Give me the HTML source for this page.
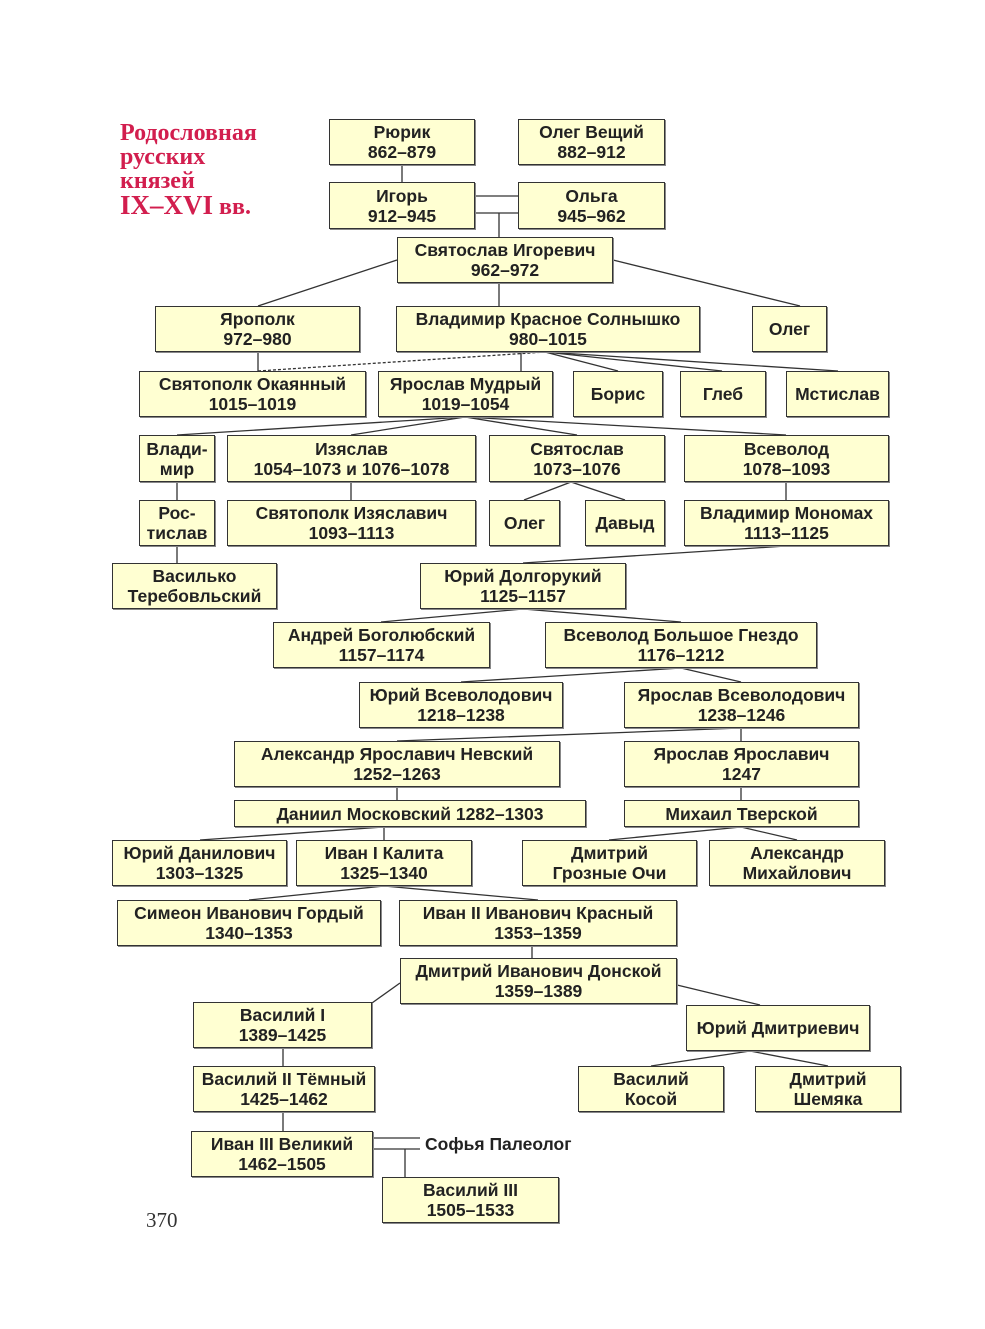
<!DOCTYPE html>
<html><head><meta charset="utf-8"><style>
body{margin:0;background:#fff;width:985px;height:1329px;position:relative;overflow:hidden;font-family:"Liberation Sans","DejaVu Sans",sans-serif;}
.b{position:absolute;box-sizing:border-box;background:#ffffd2;border:1.5px solid #333;box-shadow:1px 1px 0 #888;display:flex;align-items:center;justify-content:center;text-align:center;font-weight:bold;font-size:17.5px;line-height:20px;color:#222;white-space:nowrap;}
svg{position:absolute;left:0;top:0;}
.t{position:absolute;font-family:"Liberation Serif",serif;font-weight:bold;color:#d21e4e;font-size:24px;line-height:24px;}
</style></head><body>
<svg width="985" height="1329" stroke="#333" stroke-width="1.3" fill="none">
<line x1="402" y1="165" x2="402" y2="182"/>
<line x1="475" y1="196" x2="518" y2="196"/><line x1="475" y1="213" x2="518" y2="213"/>
<line x1="499" y1="213" x2="499" y2="237"/>
<line x1="397" y1="260" x2="258" y2="306"/><line x1="613" y1="260" x2="800" y2="306"/>
<line x1="499" y1="283" x2="499" y2="306"/>
<line x1="258" y1="352" x2="258" y2="371"/>
<line x1="258" y1="371" x2="545" y2="352" stroke-dasharray="3,2"/>
<line x1="521" y1="352" x2="521" y2="371"/>
<line x1="545" y1="352" x2="618" y2="371"/><line x1="545" y1="352" x2="722" y2="371"/><line x1="545" y1="352" x2="838" y2="371"/>
<line x1="465" y1="417" x2="177" y2="435"/><line x1="465" y1="417" x2="351" y2="435"/><line x1="465" y1="417" x2="577" y2="435"/><line x1="465" y1="417" x2="786" y2="435"/>
<line x1="177" y1="482" x2="177" y2="500"/><line x1="177" y1="546" x2="177" y2="563"/>
<line x1="351" y1="482" x2="351" y2="500"/>
<line x1="571" y1="482" x2="524" y2="500"/><line x1="571" y1="482" x2="625" y2="500"/>
<line x1="786" y1="482" x2="786" y2="500"/>
<line x1="786" y1="546" x2="523" y2="563"/>
<line x1="523" y1="609" x2="381" y2="622"/><line x1="523" y1="609" x2="681" y2="622"/>
<line x1="681" y1="668" x2="461" y2="682"/><line x1="681" y1="668" x2="741" y2="682"/>
<line x1="741" y1="728" x2="397" y2="741"/><line x1="741" y1="728" x2="741" y2="741"/>
<line x1="397" y1="787" x2="397" y2="800"/><line x1="741" y1="787" x2="741" y2="800"/>
<line x1="384" y1="827" x2="200" y2="840"/><line x1="384" y1="827" x2="384" y2="840"/>
<line x1="741" y1="827" x2="609" y2="840"/><line x1="741" y1="827" x2="797" y2="840"/>
<line x1="384" y1="886" x2="249" y2="900"/><line x1="384" y1="886" x2="538" y2="900"/>
<line x1="532" y1="946" x2="532" y2="958"/>
<line x1="400" y1="983" x2="372" y2="1003"/><line x1="677" y1="985" x2="760" y2="1005"/>
<line x1="283" y1="1048" x2="283" y2="1066"/><line x1="283" y1="1112" x2="283" y2="1131"/>
<line x1="750" y1="1051" x2="651" y2="1066"/><line x1="750" y1="1051" x2="828" y2="1066"/>
<line x1="373" y1="1138" x2="420" y2="1138"/><line x1="373" y1="1149" x2="420" y2="1149"/>
<line x1="405" y1="1149" x2="405" y2="1177"/>
</svg>
<div class="t" style="left:120px;top:121px;">Родословная<br>русских<br>князей<br><span style="font-size:27px">IX–XVI</span> вв.</div>
<div class="b" style="left:329px;top:119px;width:146px;height:46px">Рюрик<br>862–879</div>
<div class="b" style="left:518px;top:119px;width:147px;height:46px">Олег Вещий<br>882–912</div>
<div class="b" style="left:329px;top:182px;width:146px;height:47px">Игорь<br>912–945</div>
<div class="b" style="left:518px;top:182px;width:147px;height:47px">Ольга<br>945–962</div>
<div class="b" style="left:397px;top:237px;width:216px;height:46px">Святослав Игоревич<br>962–972</div>
<div class="b" style="left:155px;top:306px;width:205px;height:46px">Ярополк<br>972–980</div>
<div class="b" style="left:396px;top:306px;width:304px;height:46px">Владимир Красное Солнышко<br>980–1015</div>
<div class="b" style="left:752px;top:306px;width:75px;height:46px">Олег</div>
<div class="b" style="left:139px;top:371px;width:227px;height:46px">Святополк Окаянный<br>1015–1019</div>
<div class="b" style="left:378px;top:371px;width:175px;height:46px">Ярослав Мудрый<br>1019–1054</div>
<div class="b" style="left:573px;top:371px;width:90px;height:46px">Борис</div>
<div class="b" style="left:680px;top:371px;width:86px;height:46px">Глеб</div>
<div class="b" style="left:786px;top:371px;width:103px;height:46px">Мстислав</div>
<div class="b" style="left:139px;top:435px;width:76px;height:47px">Влади-<br>мир</div>
<div class="b" style="left:227px;top:435px;width:249px;height:47px">Изяслав<br>1054–1073 и 1076–1078</div>
<div class="b" style="left:489px;top:435px;width:176px;height:47px">Святослав<br>1073–1076</div>
<div class="b" style="left:684px;top:435px;width:205px;height:47px">Всеволод<br>1078–1093</div>
<div class="b" style="left:139px;top:500px;width:76px;height:46px">Рос-<br>тислав</div>
<div class="b" style="left:227px;top:500px;width:249px;height:46px">Святополк Изяславич<br>1093–1113</div>
<div class="b" style="left:489px;top:500px;width:71px;height:46px">Олег</div>
<div class="b" style="left:585px;top:500px;width:80px;height:46px">Давыд</div>
<div class="b" style="left:684px;top:500px;width:205px;height:46px">Владимир Мономах<br>1113–1125</div>
<div class="b" style="left:112px;top:563px;width:165px;height:46px">Василько<br>Теребовльский</div>
<div class="b" style="left:420px;top:563px;width:206px;height:46px">Юрий Долгорукий<br>1125–1157</div>
<div class="b" style="left:273px;top:622px;width:217px;height:46px">Андрей Боголюбский<br>1157–1174</div>
<div class="b" style="left:545px;top:622px;width:272px;height:46px">Всеволод Большое Гнездо<br>1176–1212</div>
<div class="b" style="left:359px;top:682px;width:204px;height:46px">Юрий Всеволодович<br>1218–1238</div>
<div class="b" style="left:624px;top:682px;width:235px;height:46px">Ярослав Всеволодович<br>1238–1246</div>
<div class="b" style="left:234px;top:741px;width:326px;height:46px">Александр Ярославич Невский<br>1252–1263</div>
<div class="b" style="left:624px;top:741px;width:235px;height:46px">Ярослав Ярославич<br>1247</div>
<div class="b" style="left:234px;top:800px;width:352px;height:27px">Даниил Московский 1282–1303</div>
<div class="b" style="left:624px;top:800px;width:235px;height:27px">Михаил Тверской</div>
<div class="b" style="left:112px;top:840px;width:175px;height:46px">Юрий Данилович<br>1303–1325</div>
<div class="b" style="left:296px;top:840px;width:176px;height:46px">Иван I Калита<br>1325–1340</div>
<div class="b" style="left:522px;top:840px;width:175px;height:46px">Дмитрий<br>Грозные Очи</div>
<div class="b" style="left:709px;top:840px;width:176px;height:46px">Александр<br>Михайлович</div>
<div class="b" style="left:117px;top:900px;width:264px;height:46px">Симеон Иванович Гордый<br>1340–1353</div>
<div class="b" style="left:399px;top:900px;width:278px;height:46px">Иван II Иванович Красный<br>1353–1359</div>
<div class="b" style="left:400px;top:958px;width:277px;height:46px">Дмитрий Иванович Донской<br>1359–1389</div>
<div class="b" style="left:193px;top:1002px;width:179px;height:46px">Василий I<br>1389–1425</div>
<div class="b" style="left:686px;top:1005px;width:184px;height:46px">Юрий Дмитриевич</div>
<div class="b" style="left:193px;top:1066px;width:182px;height:46px">Василий II Тёмный<br>1425–1462</div>
<div class="b" style="left:578px;top:1066px;width:146px;height:46px">Василий<br>Косой</div>
<div class="b" style="left:755px;top:1066px;width:146px;height:46px">Дмитрий<br>Шемяка</div>
<div class="b" style="left:191px;top:1131px;width:182px;height:46px">Иван III Великий<br>1462–1505</div>
<div style="position:absolute;left:425px;top:1134px;font-weight:bold;font-size:17.5px;color:#222;">Софья Палеолог</div>
<div class="b" style="left:382px;top:1177px;width:177px;height:46px">Василий III<br>1505–1533</div>
<div style="position:absolute;left:146px;top:1208px;font-family:'Liberation Serif',serif;font-size:21px;color:#333;">370</div>
</body></html>
